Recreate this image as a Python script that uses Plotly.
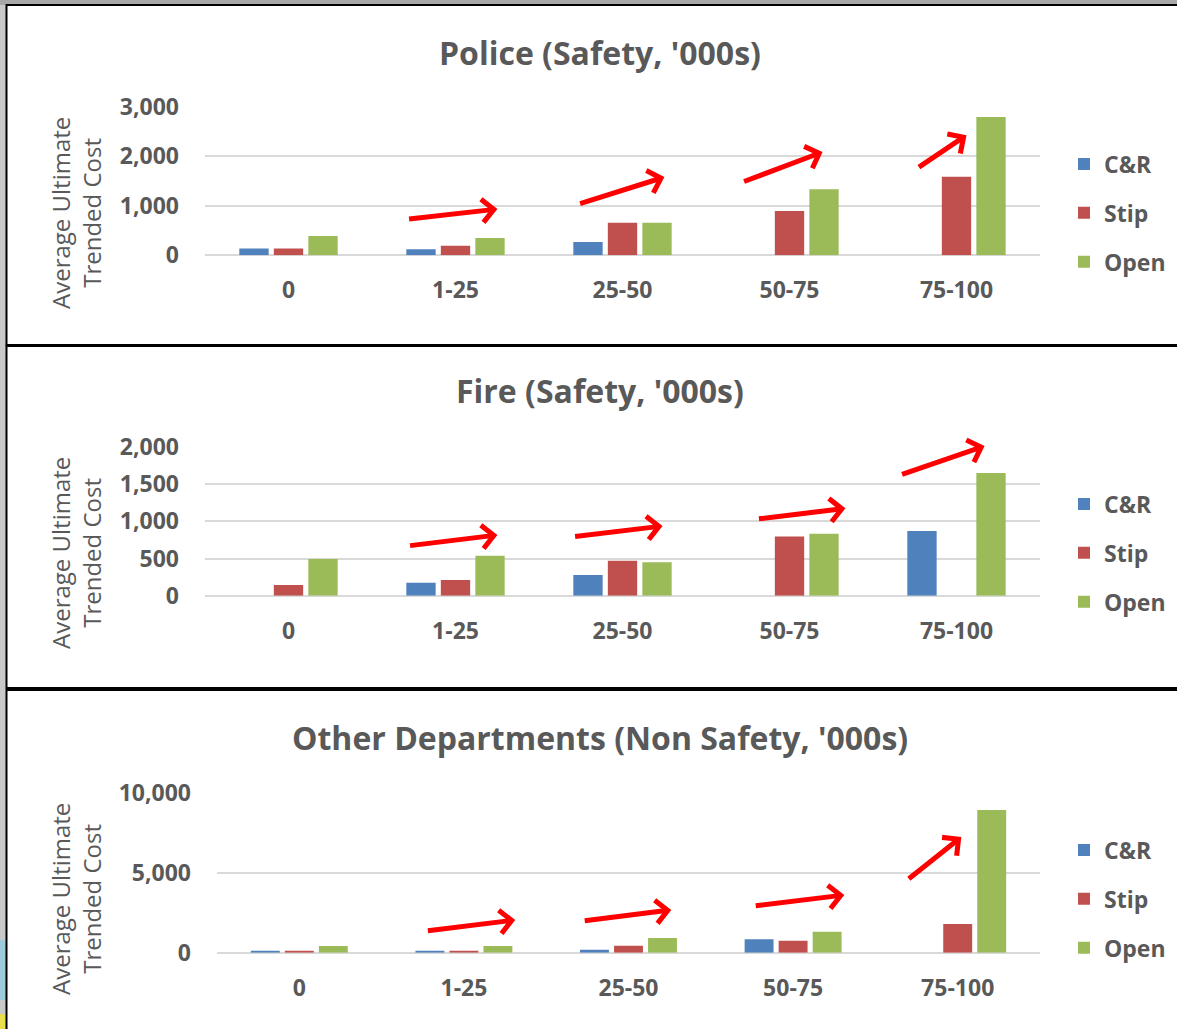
import plotly.graph_objects as go

# Claim-size bands on the x axis
bands = ["0", "1-25", "25-50", "50-75", "75-100"]
series_names = ["C&R", "Stip", "Open"]
series_colors = ["#4f81bd", "#c0504d", "#9bbb59"]

# Average ultimate trended cost ('000s) per band
police_cr = [140, 120, 270, None, None]
police_stip = [140, 195, 660, 895, 1590]
police_open = [390, 350, 660, 1335, 2800]

fire_cr = [None, 175, 278, None, 870]
fire_stip = [145, 211, 470, 797, None]
fire_open = [493, 537, 452, 833, 1650]

other_cr = [90, 100, 190, 835, None]
other_stip = [90, 100, 440, 750, 1790]
other_open = [420, 420, 920, 1310, 8920]

titles = ["Police (Safety, '000s)", "Fire (Safety, '000s)",
          "Other Departments (Non Safety, '000s)"]
y_ranges = [[0, 3000], [0, 2000], [0, 10000]]
y_ticks = [[0, 1000, 2000, 3000], [0, 500, 1000, 1500, 2000], [0, 5000, 10000]]

# Trend arrows per panel: (tail_x, tail_y, head_x, head_y) in axis units
police_arrows = [(0.713, 733, 1.251, 935), (1.737, 1036, 2.251, 1582),
                 (2.719, 1481, 3.198, 2091), (3.766, 1763, 4.060, 2430)]
fire_arrows = [(0.719, 672, 1.251, 817), (1.707, 794, 2.240, 938),
               (2.808, 1032, 3.335, 1176), (3.665, 1624, 4.168, 2013)]
other_arrows = [(0.772, 1356, 1.312, 2044), (1.725, 1981, 2.260, 2675),
                (2.764, 2919, 3.311, 3606), (3.694, 4544, 4.022, 7231)]

W, H = 1177, 1029
FONT = "Open Sans"
GREY = "#595959"


def px(x):
    return x / W


def py(y):
    return 1 - y / H


panels = [
    dict(data=[police_cr, police_stip, police_open], arrows=police_arrows,
         x0=205, x1=1040, ybot=255.3, ytop=107, frame=(5, 345),
         title_y=52, legend_y=213),
    dict(data=[fire_cr, fire_stip, fire_open], arrows=fire_arrows,
         x0=205, x1=1040, ybot=595.8, ytop=447, frame=(346, 688),
         title_y=391, legend_y=553),
    dict(data=[other_cr, other_stip, other_open], arrows=other_arrows,
         x0=217, x1=1040, ybot=952.7, ytop=792.7, frame=(690, 1040),
         title_y=737, legend_y=899),
]

fig = go.Figure()
shapes = [
    # top band of the slide
    dict(type="rect", xref="paper", yref="paper", x0=0, x1=1, y0=py(5), y1=1,
         fillcolor="#a8a8a8", line=dict(width=0), layer="below"),
    # slide decoration peeking in at the lower left
    dict(type="rect", xref="paper", yref="paper", x0=0, x1=px(6),
         y0=py(1000), y1=py(940), fillcolor="#9ccbdc", line=dict(width=0),
         layer="below"),
    dict(type="rect", xref="paper", yref="paper", x0=0, x1=px(6),
         y0=0, y1=py(1014), fillcolor="#e8e04a", line=dict(width=0),
         layer="below"),
]
annotations = []
layout_axes = {}

for i, p in enumerate(panels):
    n = i + 1
    xa = "x" if n == 1 else f"x{n}"
    ya = "y" if n == 1 else f"y{n}"
    leg = "legend" if n == 1 else f"legend{n}"

    for name, color, vals in zip(series_names, series_colors, p["data"]):
        fig.add_trace(go.Bar(
            x=bands, y=vals, name=name, marker=dict(color=color, line=dict(width=0)),
            xaxis=xa, yaxis=ya, legend=leg, legendgroup=f"{n}-{name}",
        ))

    layout_axes[f"xaxis{'' if n == 1 else n}"] = dict(
        domain=[px(p["x0"]), px(p["x1"])], anchor=ya, type="category",
        showgrid=False, showline=False, ticks="", ticklabelstandoff=19,
        tickfont=dict(family=FONT, size=23, color=GREY, weight=700),
        fixedrange=True,
    )
    layout_axes[f"yaxis{'' if n == 1 else n}"] = dict(
        domain=[py(p["ybot"]), py(p["ytop"])], anchor=xa,
        range=y_ranges[i], tickvals=y_ticks[i], tickformat=",d",
        showgrid=True, gridcolor="#d9d9d9", gridwidth=2,
        zeroline=True, zerolinecolor="#d9d9d9", zerolinewidth=2,
        showline=False, ticks="", ticklabelstandoff=25,
        tickfont=dict(family=FONT, size=23, color=GREY, weight=700),
        fixedrange=True,
    )
    layout_axes[leg] = dict(
        x=px(1064), y=py(p["legend_y"]), xanchor="left", yanchor="middle",
        bgcolor="rgba(0,0,0,0)", tracegroupgap=16,
        font=dict(family=FONT, size=23, color=GREY, weight=700),
    )

    f0, f1 = p["frame"]
    shapes.append(dict(type="rect", xref="paper", yref="paper",
                       x0=px(6.5), x1=1.02, y0=py(f1), y1=py(f0),
                       fillcolor="white", line=dict(color="black", width=2),
                       layer="below"))

    annotations.append(dict(
        text=titles[i], xref="paper", yref="paper", x=px(600), y=py(p["title_y"]),
        xanchor="center", yanchor="middle", showarrow=False,
        font=dict(family=FONT, size=32, color=GREY, weight=700),
    ))
    annotations.append(dict(
        text="Average Ultimate<br>Trended Cost", xref="paper", yref="paper",
        x=px(76), y=py(p["legend_y"]), xanchor="center", yanchor="middle",
        textangle=-90, showarrow=False,
        font=dict(family=FONT, size=24, color=GREY),
    ))
    for tx, ty, hx, hy in p["arrows"]:
        annotations.append(dict(
            text="", x=hx, y=hy, ax=tx, ay=ty, xref=xa, yref=ya,
            axref=xa, ayref=ya, showarrow=True, arrowhead=4, arrowsize=0.9,
            arrowwidth=5, arrowcolor="#ff0000",
        ))

fig.update_layout(
    width=W, height=H, margin=dict(l=0, r=0, t=0, b=0, autoexpand=False),
    paper_bgcolor="#c9c9c9", plot_bgcolor="rgba(0,0,0,0)",
    barmode="group", bargap=0.38, bargroupgap=0.15,
    shapes=shapes, annotations=annotations, showlegend=True,
    **layout_axes,
)

fig.write_html("out.html")
